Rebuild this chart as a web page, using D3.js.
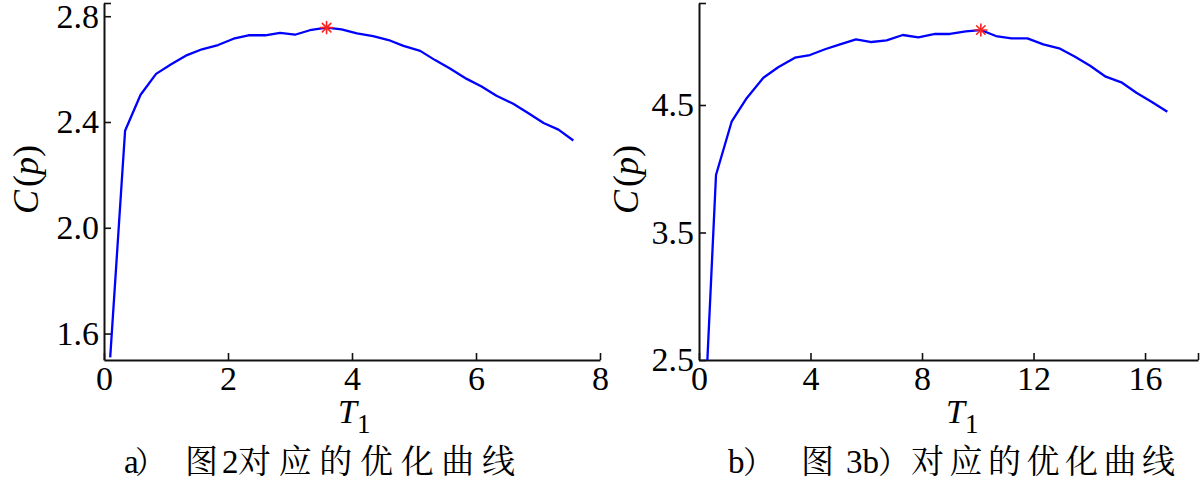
<!DOCTYPE html>
<html>
<head>
<meta charset="utf-8">
<script src="https://cdn.jsdelivr.net/npm/d3@7"></script>
</head>
<body style="margin:0">
<svg id="chart" width="1200" height="485"></svg>
<script>
// ---------- data ----------
const leftT = [0.1, 0.34, 0.59, 0.84, 1.09, 1.34, 1.58, 1.84, 2.09, 2.33, 2.6, 2.84, 3.08, 3.32, 3.59, 3.83, 4.08, 4.34, 4.59, 4.83, 5.1, 5.34, 5.58, 5.85, 6.09, 6.33, 6.6, 6.84, 7.09, 7.33, 7.57];
const leftC = [1.51, 2.367, 2.503, 2.582, 2.619, 2.653, 2.675, 2.691, 2.715, 2.728, 2.728, 2.737, 2.730, 2.747, 2.757, 2.750, 2.735, 2.725, 2.710, 2.688, 2.669, 2.634, 2.602, 2.563, 2.534, 2.499, 2.469, 2.434, 2.396, 2.371, 2.330];

const rightT = [0.3, 0.61, 1.17, 1.71, 2.31, 2.84, 3.44, 3.98, 4.52, 5.06, 5.63, 6.19, 6.73, 7.31, 7.87, 8.47, 9.0, 9.57, 10.11, 10.65, 11.21, 11.78, 12.35, 12.92, 13.49, 14.03, 14.59, 15.15, 15.69, 16.23, 16.8];
const rightC = [2.5, 3.951, 4.369, 4.553, 4.714, 4.796, 4.871, 4.892, 4.937, 4.976, 5.015, 4.994, 5.007, 5.049, 5.031, 5.057, 5.057, 5.078, 5.088, 5.041, 5.023, 5.023, 4.976, 4.945, 4.879, 4.808, 4.722, 4.678, 4.596, 4.526, 4.447];

const leftXTicks = [0, 2, 4, 6, 8];
const leftYTicks = [1.6, 2.0, 2.4, 2.8];
const rightXTicks = [0, 4, 8, 12, 16];
const rightYTicks = [2.5, 3.5, 4.5];

const leftXDomain = [0, 8];
const leftYDomain = [1.5, 2.85];
const rightXDomain = [0, 17.9];
const rightYDomain = [2.5, 5.3];

const captionA = ["a", "）", "图", "2", "对应的优化曲线"];
const captionB = ["b", "）", "图", "3b", "）", "对应的优化曲线"];

// ---------- drawing ----------
const svg = d3.select("#chart");
const SERIF_NAME = "Liberation Serif";
const CJK_NAME = "Noto Serif CJK SC";
const SERIF = '"Liberation Serif"';
const CJK = '"Noto Serif CJK SC"';

function serif(sel) { return sel.attr("font-family", SERIF_NAME).style("font-family", SERIF); }
function cjk(sel) { return sel.attr("font-family", CJK_NAME).style("font-family", CJK); }

function panel(opt) {
  const x = d3.scaleLinear().domain(opt.xDomain).range(opt.xRange);
  const y = d3.scaleLinear().domain(opt.yDomain).range(opt.yRange);
  const g = svg.append("g");

  // x axis
  const xTickVals = opt.xTicks.concat(opt.xTicks.includes(opt.xDomain[1]) ? [] : [opt.xDomain[1]]);
  const xa = g.append("g")
    .attr("transform", `translate(0,${opt.yRange[0]})`)
    .call(d3.axisBottom(x).tickValues(xTickVals)
      .tickFormat(d => opt.xTicks.includes(d) ? d3.format("d")(d) : "")
      .tickSizeInner(-7).tickSizeOuter(0).tickPadding(6));
  // y axis
  const yTickVals = opt.yTicks.concat([opt.yDomain[1]]);
  const ya = g.append("g")
    .attr("transform", `translate(${opt.xRange[0]},0)`)
    .call(d3.axisLeft(y).tickValues(yTickVals)
      .tickFormat(d => opt.yTicks.includes(d) ? d3.format(".1f")(d) : "")
      .tickSizeInner(-7).tickSizeOuter(0).tickPadding(5));

  [xa, ya].forEach(a => {
    a.attr("font-family", SERIF_NAME).attr("font-size", 34);
    a.select(".domain").attr("stroke", "#111").attr("stroke-width", 2);
    a.selectAll(".tick line").attr("stroke", "#111").attr("stroke-width", 1.6);
    serif(a.selectAll(".tick text")).attr("fill", "#000").style("font-size", "34px");
  });

  // line
  const pts = opt.t.map((v, i) => [v, opt.c[i]]);
  g.append("path")
    .datum(pts)
    .attr("fill", "none")
    .attr("stroke", "#0000ff")
    .attr("stroke-width", 2.3)
    .attr("stroke-linejoin", "round")
    .attr("d", d3.line().x(d => x(d[0])).y(d => y(d[1])));

  // optimum marker (asterisk) at max value
  const mi = d3.maxIndex(opt.c);
  const mx = x(opt.t[mi]), my = y(opt.c[mi]);
  const r = 6;
  const star = g.append("g").attr("transform", `translate(${mx},${my})`)
    .attr("stroke", "#ff2020").attr("stroke-width", 1.6).attr("stroke-linecap", "round");
  [0, 45, 90, 135].forEach(a => {
    const rad = a * Math.PI / 180;
    star.append("line")
      .attr("x1", -r * Math.cos(rad)).attr("y1", -r * Math.sin(rad))
      .attr("x2", r * Math.cos(rad)).attr("y2", r * Math.sin(rad));
  });

  // y label C(p)
  const yl = serif(g.append("text"))
    .attr("transform", `translate(${opt.ylabX},${(opt.yRange[0] + opt.yRange[1]) / 2 - 2}) rotate(-90)`)
    .attr("text-anchor", "middle")
    .style("font-size", "36px").attr("fill", "#000");
  serif(yl.append("tspan")).style("font-style", "italic").text("C");
  serif(yl.append("tspan")).attr("dx", 3).text("(");
  serif(yl.append("tspan")).style("font-style", "italic").text("p");
  serif(yl.append("tspan")).text(")");

  // x label T1
  const xl = serif(g.append("text"))
    .attr("x", opt.xlabX).attr("y", 423).attr("fill", "#000");
  serif(xl.append("tspan")).style("font-style", "italic").style("font-size", "34px").text("T");
  serif(xl.append("tspan")).attr("dy", 10).style("font-size", "27px").text("1");

  // caption
  const cap = g.append("text").attr("y", 473).attr("fill", "#000");
  opt.caption.forEach((s, i) => {
    const p = opt.capPos[i];
    const ts = cap.append("tspan").attr("x", p.x).text(s).style("font-size", p.size + "px");
    if (p.serif) serif(ts); else cjk(ts);
    if (p.len) ts.attr("textLength", p.len).attr("lengthAdjust", "spacing");
  });
}

panel({
  t: leftT, c: leftC,
  xDomain: leftXDomain, yDomain: leftYDomain,
  xRange: [104, 600], yRange: [360, 3],
  xTicks: leftXTicks, yTicks: leftYTicks,
  ylabX: 38, xlabX: 338,
  caption: captionA,
  capPos: [
    { x: 124, size: 33, serif: true },
    { x: 135, size: 31 },
    { x: 185, size: 33 },
    { x: 222, size: 33, serif: true },
    { x: 238, size: 33, len: 277 }
  ]
});

panel({
  t: rightT, c: rightC,
  xDomain: rightXDomain, yDomain: rightYDomain,
  xRange: [699, 1198], yRange: [360, 3],
  xTicks: rightXTicks, yTicks: rightYTicks,
  ylabX: 638, xlabX: 946,
  caption: captionB,
  capPos: [
    { x: 728, size: 33, serif: true },
    { x: 743, size: 31 },
    { x: 801, size: 33 },
    { x: 846, size: 33, serif: true },
    { x: 878, size: 31 },
    { x: 911, size: 33, len: 264 }
  ]
});
</script>
</body>
</html>
